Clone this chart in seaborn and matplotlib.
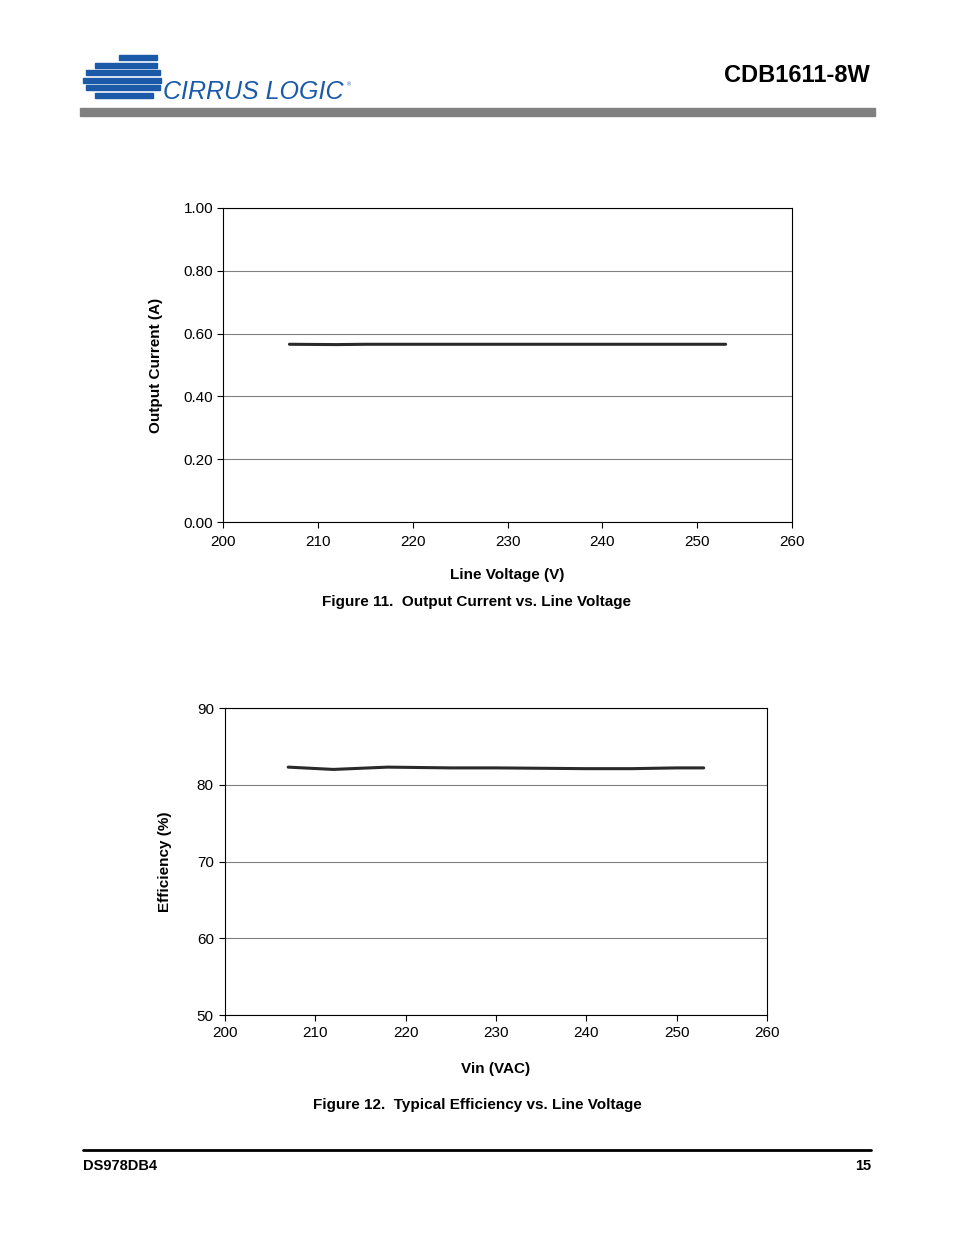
import numpy as np
import pandas as pd
import matplotlib.pyplot as plt
import seaborn as sns

sns.set_style("white")
plt.rcParams['font.family'] = ['Liberation Sans', 'DejaVu Sans']
plt.rcParams['text.color'] = "black"
plt.rcParams['axes.labelcolor'] = "black"
plt.rcParams['xtick.color'] = "black"
plt.rcParams['ytick.color'] = "black"

# Figure 11 data
volt_cur = [207, 212, 215, 220, 230, 240, 250, 253]
current = [0.566, 0.565, 0.566, 0.566, 0.566, 0.566, 0.566, 0.566]

# Figure 12 data
volt_eff = [207, 212, 218, 225, 230, 240, 245, 250, 253]
efficiency = [82.3, 82.0, 82.3, 82.2, 82.2, 82.1, 82.1, 82.2, 82.2]

fig = plt.figure(figsize=(9.54, 12.35), dpi=100)

# header
fig.add_artist(plt.Rectangle((80/954, 1-116/1235), 795/954, 8/1235, color="#808080", transform=fig.transFigure))
fig.text(870/954, 1-75/1235, "CDB1611-8W", ha="right", va="center", fontsize=17, fontweight="bold")
blue = "#1a5aa8"
for i, (x0, w) in enumerate([(0.125, 0.04), (0.1, 0.065), (0.09, 0.078), (0.087, 0.082), (0.09, 0.078), (0.1, 0.06)]):
    y = 1 - (60 + i * 7.5) / 1235
    fig.add_artist(plt.Rectangle((x0, y), w, 4.5/1235, color=blue, transform=fig.transFigure))
fig.text(163/954, 1-92/1235, "CIRRUS LOGIC", color=blue, fontsize=18, style="italic",
         va="center", ha="left")
fig.text(347/954, 1-86/1235, "®", color=blue, fontsize=4)

def style_ax(ax):
    ax.grid(axis="y", color="#808080", lw=0.8)
    for s in ax.spines.values():
        s.set_color("black")
        s.set_linewidth(0.8)
    ax.tick_params(axis="both", direction="out", length=4, labelsize=11, bottom=True, left=True, color="black")

# Figure 11
ax1 = fig.add_axes([0.2338, 0.5773, 0.5964, 0.2543])
sns.lineplot(x=volt_cur, y=current, ax=ax1, color="#2a2a2a", lw=2.2)
ax1.set_xlim(200, 260)
ax1.set_ylim(0, 1.0)
ax1.set_xticks(range(200, 261, 10))
ax1.set_yticks(np.arange(0, 1.01, 0.2))
ax1.set_yticklabels([f"{v:.2f}" for v in np.arange(0, 1.01, 0.2)])
ax1.tick_params(axis="x", pad=5)
ax1.tick_params(axis="y", pad=3)
ax1.set_xlabel("Line Voltage (V)", fontsize=11, fontweight="bold", labelpad=14)
ax1.set_ylabel("Output Current (A)", fontsize=11, fontweight="bold", labelpad=15)
style_ax(ax1)
fig.text(0.5, 1-602/1235, "Figure 11.  Output Current vs. Line Voltage", ha="center", va="center",
         fontsize=11, fontweight="bold")

# Figure 12
ax2 = fig.add_axes([0.2358, 0.1781, 0.5681, 0.2486])
sns.lineplot(x=volt_eff, y=efficiency, ax=ax2, color="#2a2a2a", lw=2.2)
ax2.set_xlim(200, 260)
ax2.set_ylim(50, 90)
ax2.set_xticks(range(200, 261, 10))
ax2.set_yticks(range(50, 91, 10))
ax2.tick_params(axis="x", pad=4)
ax2.tick_params(axis="y", pad=4)
ax2.set_xlabel("Vin (VAC)", fontsize=11, fontweight="bold", labelpad=16)
ax2.set_ylabel("Efficiency (%)", fontsize=11, fontweight="bold", labelpad=18)
style_ax(ax2)
fig.text(0.5, 1-1105/1235, "Figure 12.  Typical Efficiency vs. Line Voltage", ha="center", va="center",
         fontsize=11, fontweight="bold")

# footer
fig.add_artist(plt.Line2D([83/954, 871/954], [1-1150/1235]*2, color="black", lw=2, transform=fig.transFigure))
fig.text(83/954, 1-1166/1235, "DS978DB4", fontsize=10.5, fontweight="bold", va="center")
fig.text(871/954, 1-1166/1235, "15", fontsize=10.5, fontweight="bold", va="center", ha="right")

fig.savefig("out.png", dpi=100)
